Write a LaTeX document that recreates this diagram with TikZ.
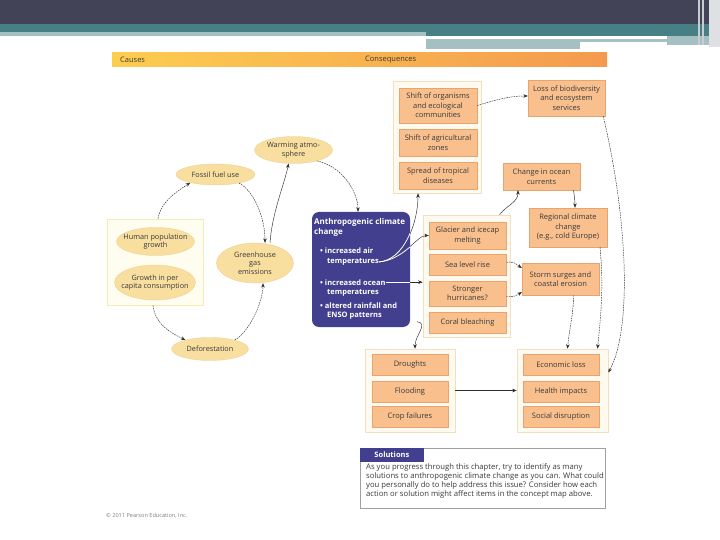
\documentclass[tikz,border=0pt]{standalone}
\usepackage{fontspec}
\setmainfont{Open Sans}
\usetikzlibrary{arrows.meta,shapes.geometric}
\definecolor{hdark}{HTML}{424357}
\definecolor{hteal}{HTML}{467F84}
\definecolor{hlight}{HTML}{A4C0C3}
\definecolor{hgray}{HTML}{C9CCD0}
\definecolor{barL}{HTML}{FDCD50}
\definecolor{barR}{HTML}{F49A4F}
\definecolor{ellfill}{HTML}{F8DE9F}
\definecolor{ellline}{HTML}{EDCD85}
\definecolor{obfill}{HTML}{F9C08E}
\definecolor{obline}{HTML}{E7A46E}
\definecolor{grpfill}{HTML}{FFFAF0}
\definecolor{grpline}{HTML}{F1DFC0}
\definecolor{lgfill}{HTML}{FFFDF0}
\definecolor{lgline}{HTML}{F6EAB5}
\definecolor{purp}{HTML}{433F8F}
\definecolor{txt}{HTML}{3A3A3A}
\definecolor{arr}{HTML}{2E2E2E}
\definecolor{solline}{HTML}{A0A0A0}
\begin{document}
\begin{tikzpicture}[x=1pt,y=-1pt,
 ell/.style={ellipse, fill=ellfill, draw=ellline, line width=0.3pt, inner sep=0pt},
 etext/.style={inner sep=0pt, align=center, text=txt, font=\fontsize{7.3}{8.7}\selectfont},
 obox/.style={rectangle, fill=obfill, draw=obline, line width=0.4pt, inner sep=0pt, align=center, text=txt, font=\fontsize{7.5}{9.5}\selectfont},
 grp/.style={rectangle, fill=grpfill, draw=grpline, line width=0.6pt, inner sep=0pt},
 ctext/.style={anchor=base west, inner sep=0pt, text=white, font=\bfseries\fontsize{7.5}{9}\selectfont},
 stext/.style={anchor=base west, inner sep=0pt, text=txt, font=\fontsize{7.7}{9}\selectfont},
 conn/.style={draw=arr, line width=0.45pt, -{Stealth[length=4.5pt,width=3.5pt]}},
 dconn/.style={conn, dash pattern=on 1.6pt off 0.9pt},
 pA/.style={insert path={(t4.east) .. controls +(25,-2) and +(0,30) .. ([xshift=-19pt]g1.south)}},
 pB/.style={insert path={(t4.east) .. controls +(25,-2) and +(-12,0) .. (gla.west)}},
 pC/.style={insert path={(t5.east) -- (t5.east -| g2.west)}},
 pD/.style={insert path={([shift={(35pt,-6pt)}]t8.east) .. controls +(12,2) and +(0,-14) .. ([xshift=5pt]g3.north)}},
]
\useasboundingbox (0,0) rectangle (720,540);
\fill[white] (0,0) rectangle (720,540);
% header band
\fill[hdark] (0,0) rectangle (720,24);
\fill[hteal] (0,24) rectangle (720,32);
\fill[hteal] (426,32) rectangle (709,36);
\fill[hlight] (0,32) rectangle (426,36);
\fill[hlight] (426,39) rectangle (709,42);
\fill[hlight] (426,42) rectangle (580,49);
\fill[hlight] (667,36) rectangle (709,45);
\fill[hgray] (698,0) rectangle (699.5,45);
\fill[hgray] (702,0) rectangle (703.5,45);
\fill[hgray!60] (709,0) rectangle (720,47);
% causes / consequences bar
\shade[left color=barL, right color=barR] (112,53) rectangle (607,67);
\node[anchor=west, inner sep=0pt, text=txt, font=\fontsize{7.5}{8}\selectfont] (causes) at (120,60) {Causes};
\node[anchor=west, inner sep=0pt, text=txt, font=\fontsize{7.5}{8}\selectfont] (cons) at (365,60) {Consequences};
% causes
\node[grp, fill=lgfill, draw=lgline, minimum width=96pt, minimum height=86pt] (lg) at (155,262) {};
\node[ell, minimum width=78pt, minimum height=28pt] (hum) at (155.5,241.5) {};
\node[etext] (humt) at (hum) {Human population\\growth};
\node[ell, minimum width=81pt, minimum height=35pt] (gro) at (155,282.5) {};
\node[etext] (grot) at (gro) {Growth in per\\capita consumption};
\node[ell, minimum width=79pt, minimum height=21pt] (fos) at (215.5,174.5) {};
\node[etext] (fost) at (fos) {Fossil fuel use};
\node[ell, minimum width=78pt, minimum height=27pt] (warm) at (293.5,150) {};
\node[etext] (warmt) at (warm) {Warming atmo-\\sphere};
\node[ell, minimum width=77pt, minimum height=40pt] (ghg) at (255,263) {};
\node[etext] (ghgt) at (ghg) {Greenhouse\\gas\\emissions};
\node[ell, minimum width=77pt, minimum height=23pt] (def) at (210,349) {};
\node[etext] (deft) at (def) {Deforestation};
% central box
\node[fill=purp, rounded corners=7pt, minimum width=98pt, minimum height=115pt, inner sep=0pt] (acc) at (361,269.5) {};
\node[ctext, font=\bfseries\fontsize{8}{9}\selectfont] (t1) at (314,225) {Anthropogenic climate};
\node[ctext, font=\bfseries\fontsize{8}{9}\selectfont] (t2) at (314,234.5) {change};
\node[ctext] (t3) at (320,254) {\textbullet\ increased air};
\node[ctext] (t4) at (327,263.5) {temperatures};
\node[ctext] (t5) at (320,285) {\textbullet\ increased ocean};
\node[ctext] (t6) at (327,294.5) {temperatures};
\node[ctext] (t7) at (320,308) {\textbullet\ altered rainfall and};
\node[ctext] (t8) at (327,317.5) {ENSO patterns};
% consequences
\node[grp, minimum width=88pt, minimum height=112pt] (g1) at (437,137) {};
\node[obox, minimum width=78pt, minimum height=35pt] (org) at (438,105.5) {Shift of organisms\\and ecological\\communities};
\node[obox, minimum width=78pt, minimum height=27pt] (agr) at (438,142.5) {Shift of agricultural\\zones};
\node[obox, minimum width=78pt, minimum height=27pt] (trop) at (438,175.5) {Spread of tropical\\diseases};
\node[obox, minimum width=77pt, minimum height=36pt] (loss) at (566.5,98) {Loss of biodiversity\\and ecosystem\\services};
\node[obox, minimum width=77pt, minimum height=27pt] (cur) at (541.5,176.5) {Change in ocean\\currents};
\node[grp, minimum width=87pt, minimum height=122pt] (g2) at (466.5,276) {};
\node[obox, minimum width=77pt, minimum height=27pt] (gla) at (467.5,235.5) {Glacier and icecap\\melting};
\node[obox, minimum width=77pt, minimum height=21pt] (sea) at (467.5,265) {Sea level rise};
\node[obox, minimum width=77pt, minimum height=25pt] (hur) at (467.5,293.5) {Stronger\\hurricanes?};
\node[obox, minimum width=77pt, minimum height=21pt] (cor) at (467.5,322.5) {Coral bleaching};
\node[obox, minimum width=78pt, minimum height=39pt] (reg) at (568,227.5) {Regional climate\\change\\(e.g., cold Europe)};
\node[obox, minimum width=77pt, minimum height=32pt] (sto) at (560.5,279) {Storm surges and\\coastal erosion};
\node[grp, minimum width=90pt, minimum height=83pt] (g3) at (410,390.5) {};
\node[obox, minimum width=76pt, minimum height=21pt] (dro) at (410,365) {Droughts};
\node[obox, minimum width=76pt, minimum height=21pt] (flo) at (410,392) {Flooding};
\node[obox, minimum width=76pt, minimum height=21pt] (cro) at (410,417) {Crop failures};
\node[grp, minimum width=91pt, minimum height=83pt] (g4) at (562.5,390.5) {};
\node[obox, minimum width=76pt, minimum height=21pt] (eco) at (561,365) {Economic loss};
\node[obox, minimum width=76pt, minimum height=21pt] (hea) at (561,392) {Health impacts};
\node[obox, minimum width=76pt, minimum height=21pt] (soc) at (561,417) {Social disruption};
% solutions
\node[draw=solline, line width=0.6pt, minimum width=245pt, minimum height=60pt, inner sep=0pt] (sol) at (482.5,478) {};
\node[fill=purp, minimum width=64pt, minimum height=14pt, inner sep=0pt, anchor=north west, text=white, font=\bfseries\fontsize{7.5}{8}\selectfont] (soltab) at (sol.north west) {Solutions};
\node[stext] (s1) at (366,469) {As you progress through this chapter, try to identify as many};
\node[stext] (s2) at (366,478) {solutions to anthropogenic climate change as you can. What could};
\node[stext] (s3) at (366,487) {you personally do to help address this issue? Consider how each};
\node[stext] (s4) at (366,496) {action or solution might affect items in the concept map above.};
\node[anchor=west, inner sep=0pt, text=gray, font=\fontsize{5.6}{6}\selectfont] (cpr) at (106,516) {\textcopyright\ 2011 Pearson Education, Inc.};
% connectors: causes
\draw[dconn] ([xshift=3pt]lg.north) .. controls +(3,-18) and +(-12,8) .. (fos.198);
\draw[dconn] (fos.340) .. controls +(15,8) and +(0,-25) .. ([xshift=10pt]ghg.north);
\draw[conn] ([xshift=15pt]ghg.north) .. controls +(2,-30) and +(-4,20) .. (warm.250);
\draw[dconn] (warm.335) .. controls +(25,5) and +(0,-20) .. ([xshift=-3pt]acc.north);
\draw[dconn] ([xshift=-2pt]lg.south) .. controls +(2,20) and +(-12,-6) .. (def.160);
\draw[dconn] (def.20) .. controls +(15,-8) and +(0,18) .. ([xshift=8pt]ghg.south);
% connectors from the central box
\draw[conn, pA];
\draw[conn, pB];
\draw[conn, pC];
\draw[conn, pD];
\begin{scope}
\clip[rounded corners=7pt] (acc.north west) rectangle (acc.south east);
\draw[white, line width=0.8pt, pA];
\draw[white, line width=0.8pt, pB];
\draw[white, line width=0.8pt, pC];
\draw[white, line width=0.8pt, pD];
\end{scope}
% connectors: consequences
\draw[dconn] (org.east) .. controls +(20,-6) and +(-18,0) .. ([yshift=2pt]loss.west);
\draw[conn] ([xshift=33pt]g2.north) .. controls +(8,-10) and +(0,12) .. ([xshift=-23.5pt]cur.south);
\draw[conn] ([xshift=32pt]cur.south) .. controls +(1,6) and +(0,-6) .. ([xshift=7pt]reg.north);
\draw[dconn] ([yshift=3pt]sea.east) .. controls +(10,0) and +(-6,-4) .. ([yshift=11pt]sto.west);
\draw[dconn] ([yshift=-3pt]hur.east) .. controls +(10,0) and +(-6,4) .. ([yshift=-13pt]sto.west);
\draw[dconn] ([xshift=13pt]sto.south) .. controls +(0,20) and +(2,-22) .. ([xshift=5pt]g4.north);
\draw[dconn] ([xshift=32pt]reg.south) .. controls +(4,40) and +(3,-30) .. ([xshift=35pt]g4.north);
\draw[dconn] ([xshift=-2pt]loss.south east) .. controls (628,220) and (632,330) .. ([yshift=18pt]g4.east);
\draw[conn] (g3.east) -- (g4.west);
\end{tikzpicture}
\end{document}
